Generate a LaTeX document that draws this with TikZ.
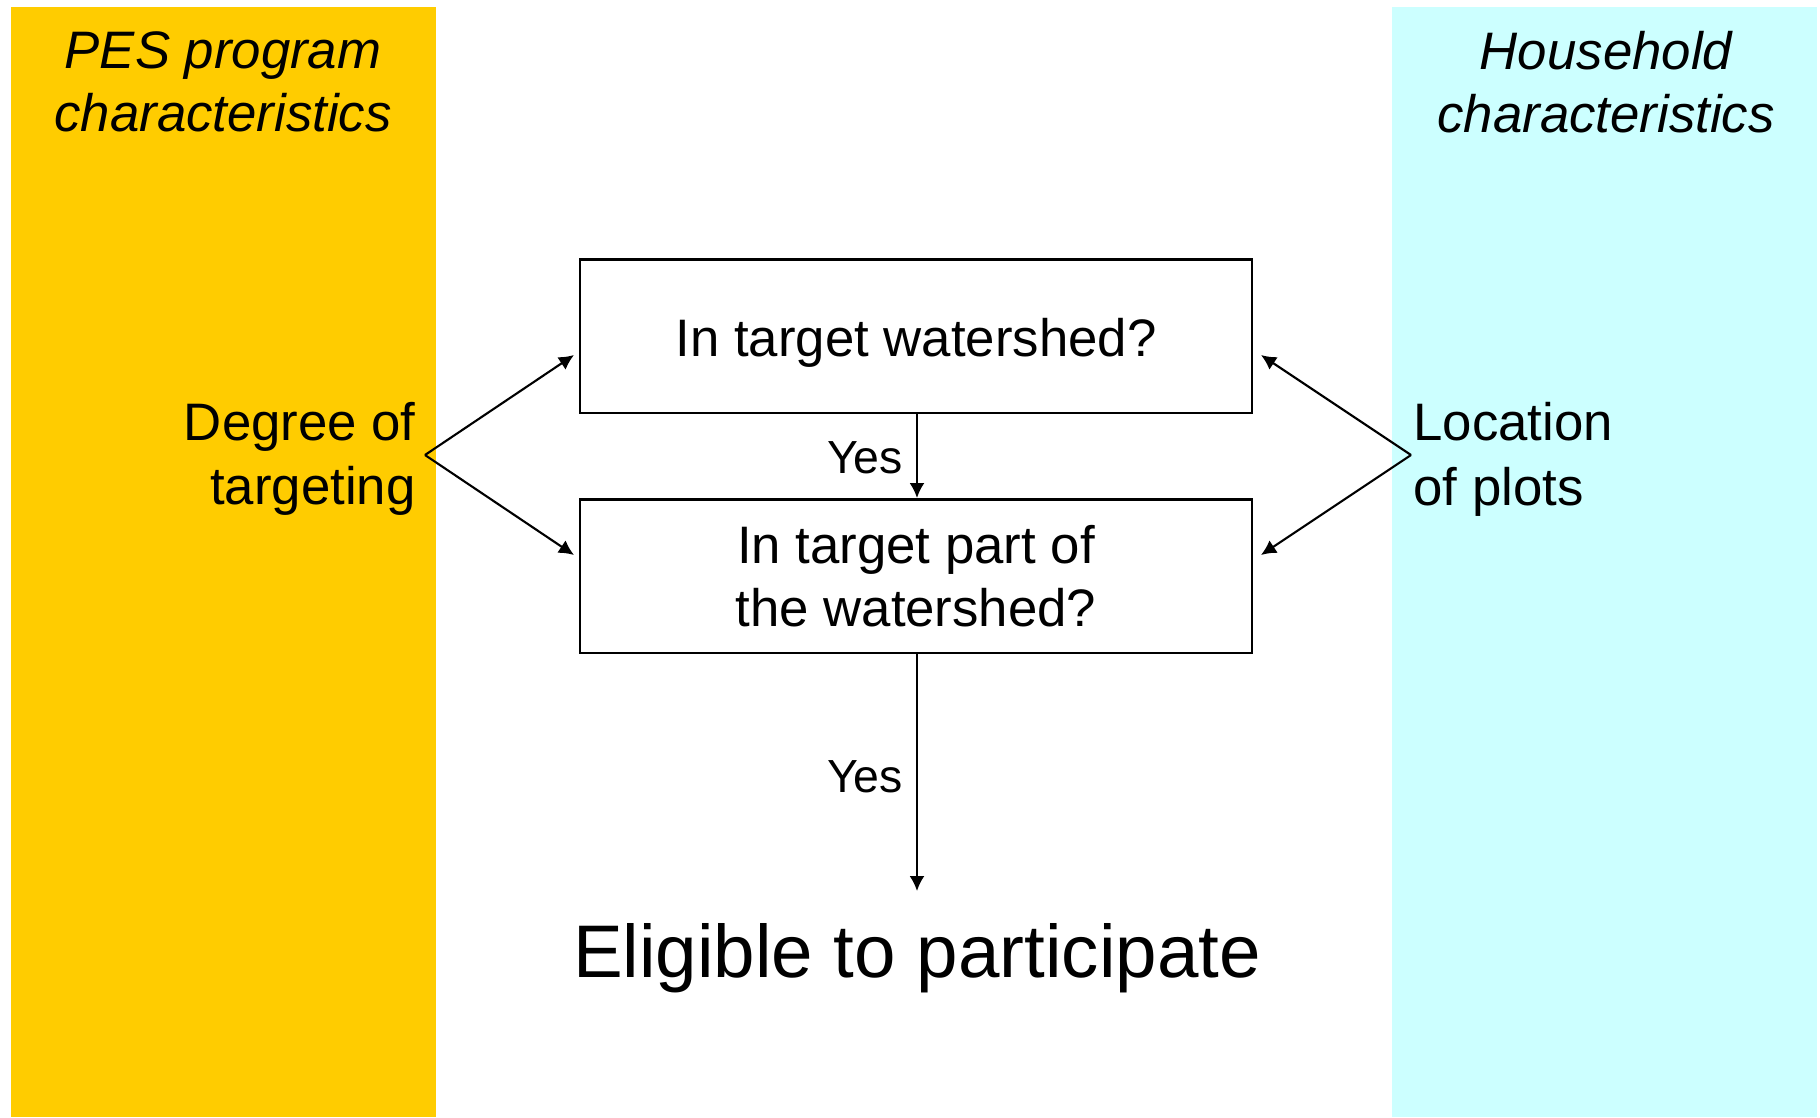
\documentclass[tikz,border=0pt]{standalone}
\usepackage{fontspec}
\setmainfont{Liberation Sans}
\usetikzlibrary{arrows.meta}
\definecolor{pesgold}{HTML}{FFCC00}
\definecolor{hhcyan}{HTML}{CCFFFF}

\begin{document}
\begin{tikzpicture}[x=0.01cm,y=-0.01cm,
    question/.style={draw,line width=0.6pt,minimum width=6.72cm,minimum height=1.53cm,align=center,
        font=\fontsize{15}{18}\selectfont},
    side/.style={font=\fontsize{15}{18.4}\selectfont},
    heading/.style={align=center,font=\fontsize{15}{18}\selectfont\itshape},
    yes/.style={font=\fontsize{13.2}{16}\selectfont},
    link/.style={line width=0.6pt,-{Latex[length=1.5mm,width=1.5mm]}}]
    \useasboundingbox (0,0) rectangle (1820,1117);

    % the two side bands
    \fill[pesgold] (11,7) rectangle (436,1117);
    \fill[hhcyan] (1392,7) rectangle (1817,1117);
    \node[heading] (pes) at (223,82) {PES program\\characteristics};
    \node[heading] (house) at (1606,82) {Household\\characteristics};

    % the two questions
    \node[question,text height=15pt] (shed) at (916,336) {In target watershed?};
    \node[question] (part) at (916,576) {In target part of\\the watershed?};
    \node[font=\fontsize{21.2}{25}\selectfont] (elig) at (917,958) {Eligible to participate};
    \coordinate (eligtop) at (917,891);

    \draw[link] (shed.south -| eligtop) -- (917,498);
    \draw[link] (part.south -| eligtop) -- (eligtop);
    \node[yes] (yes1) at (865,458) {Yes};
    \node[yes] (yes2) at (865,777) {Yes};

    % what drives each question
    \node[side,align=right,anchor=east] (target) at (428,459) {Degree of\\targeting};
    \node[side,align=left,anchor=west] (plots) at (1401,459) {Location\\of plots};
    \coordinate (lpt) at (425,455);
    \coordinate (rpt) at (1411,455);
    \draw[link] (lpt) -- (574,355);
    \draw[link] (lpt) -- (574,555);
    \draw[link] (rpt) -- (1261,355);
    \draw[link] (rpt) -- (1261,555);
\end{tikzpicture}
\end{document}
